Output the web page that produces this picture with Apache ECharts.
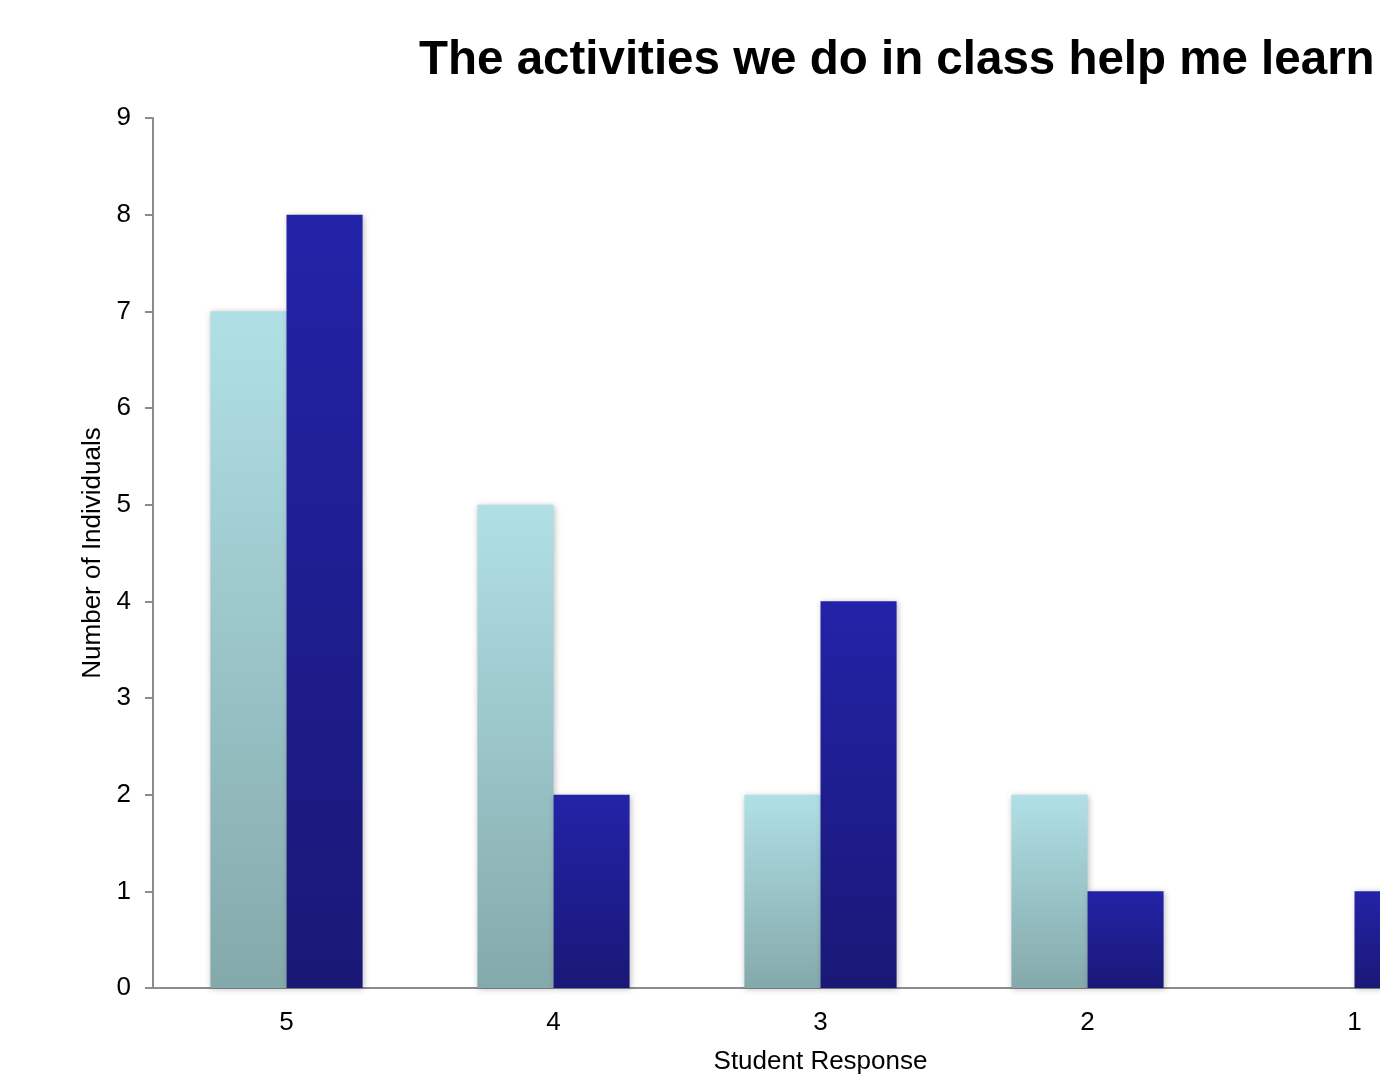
<!DOCTYPE html>
<html>
<head>
<meta charset="utf-8">
<script src="https://cdn.jsdelivr.net/npm/echarts@6/dist/echarts.min.js"></script>
<style>
  html, body { margin: 0; padding: 0; background: #fff; overflow: hidden; }
  #chart { width: 1560px; height: 1080px; }
</style>
</head>
<body>
<div id="chart"></div>
<script>
    const categories = ["5", "4", "3", "2", "1"];
    const seriesLight = [7, 5, 2, 2, 0];
    const seriesDark = [8, 2, 4, 1, 1];
    const yTicks = { min: 0, max: 9, interval: 1 };

    const chart = echarts.init(document.getElementById("chart"));

    const grad = (top, bottom) => new echarts.graphic.LinearGradient(0, 0, 0, 1, [
        { offset: 0, color: top },
        { offset: 1, color: bottom }
    ]);

    const axisColor = "#8c8c8c";
    const font = "Liberation Sans, Arial, sans-serif";

    chart.setOption({
        animation: false,
        title: {
            text: "The activities we do in class help me learn",
            left: 414,
            top: 32,
            textStyle: { fontFamily: font, fontSize: 47.5, fontWeight: "bold", color: "#000" }
        },
        grid: { left: 153, right: 72, top: 118, bottom: 86, containLabel: false },
        xAxis: {
            type: "category",
            data: categories,
            name: "Student Response",
            nameLocation: "middle",
            nameGap: 61,
            nameTextStyle: { fontFamily: font, fontSize: 26, color: "#000" },
            axisLine: { lineStyle: { color: axisColor, width: 2 } },
            axisTick: { show: false },
            axisLabel: { fontFamily: font, fontSize: 26, color: "#000", margin: 22 }
        },
        yAxis: {
            type: "value",
            min: yTicks.min,
            max: yTicks.max,
            interval: yTicks.interval,
            name: "Number of Individuals",
            nameLocation: "middle",
            nameGap: 46,
            nameTextStyle: { fontFamily: font, fontSize: 26, color: "#000" },
            axisLine: { show: true, lineStyle: { color: axisColor, width: 2 } },
            axisTick: { show: true, length: 8, lineStyle: { color: axisColor, width: 2 } },
            axisLabel: { fontFamily: font, fontSize: 26, color: "#000", margin: 22 },
            splitLine: { show: false }
        },
        series: [
            {
                type: "bar",
                data: seriesLight,
                barGap: "0%",
                barCategoryGap: "43%",
                itemStyle: {
                    color: grad("#b0e0e6", "#84a9ab"),
                    shadowColor: "rgba(0,0,0,0.25)",
                    shadowBlur: 6,
                    shadowOffsetX: 1,
                    shadowOffsetY: 1
                }
            },
            {
                type: "bar",
                data: seriesDark,
                barGap: "0%",
                barCategoryGap: "43%",
                itemStyle: {
                    color: grad("#2323a8", "#1a1876"),
                    shadowColor: "rgba(0,0,0,0.25)",
                    shadowBlur: 6,
                    shadowOffsetX: 1,
                    shadowOffsetY: 1
                }
            }
        ]
    });
</script>
</body>
</html>
